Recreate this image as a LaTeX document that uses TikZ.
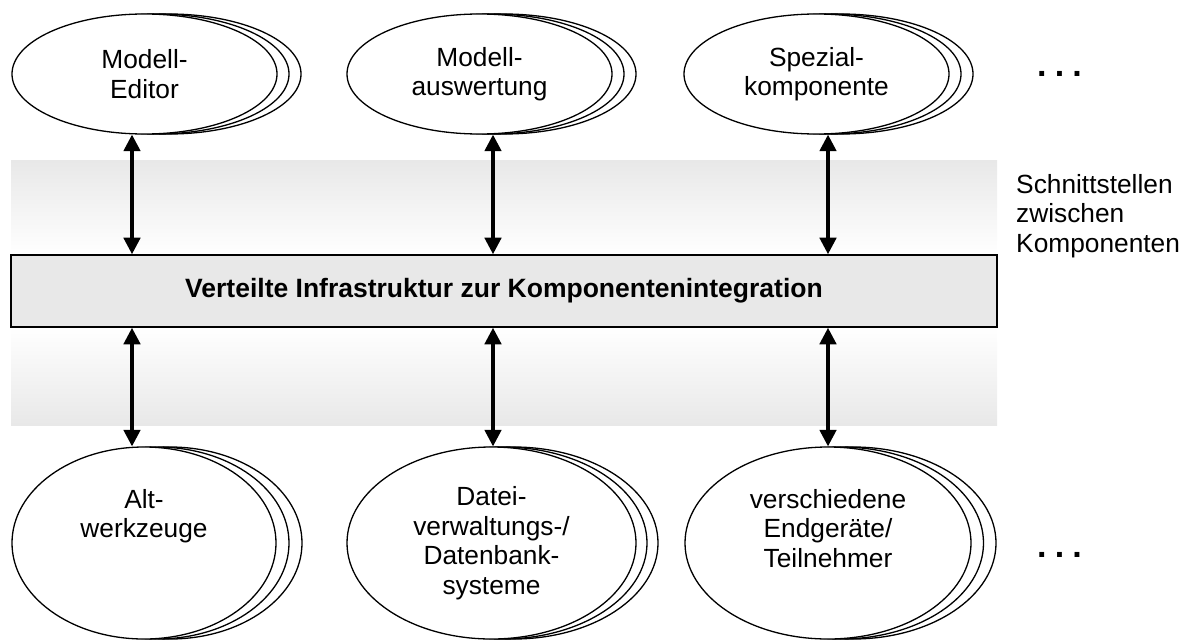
\documentclass[tikz,border=0pt]{standalone}
\usepackage{fontspec}
\setmainfont{Liberation Sans}
\usetikzlibrary{arrows.meta,shapes.geometric}

\tikzset{
  comp/.style={ellipse, draw=black, line width=1.3pt, fill=white, inner sep=0pt,
    align=center, font=\fontsize{26.3}{29.5}\selectfont},
  topcomp/.style={comp, minimum width=265pt, minimum height=120pt},
  botcomp/.style={comp, minimum width=#1, minimum height=192pt},
  infra/.style={rectangle, draw=black, line width=1.6pt, fill=barfill, inner sep=0pt,
    minimum width=986pt, minimum height=72pt,
    font=\bfseries\fontsize{26.5}{29.5}\selectfont},
  biarrow/.style={line width=3.2pt, {Triangle[length=16.5pt,width=16.5pt]}-{Triangle[length=16.5pt,width=16.5pt]}},
  plain/.style={inner sep=0pt, font=\fontsize{26.3}{29.5}\selectfont},
}
\definecolor{bandgray}{HTML}{E8E8E8}
\definecolor{barfill}{HTML}{E8E8E8}

\begin{document}
\begin{tikzpicture}[x=1pt, y=-1pt]
\useasboundingbox (0,0) rectangle (1182,640);

% shaded interface bands above and below the infrastructure bar
\fill[top color=bandgray, bottom color=white] (11,160) rectangle (997,255);
\fill[top color=white, bottom color=bandgray] (11,327) rectangle (997,425);

% infrastructure bar
\node[infra] (bar) at (504,291) {Verteilte Infrastruktur zur Komponentenintegration};

% upper components (stacked ellipses)
\foreach \name/\cx in {ed/144.5, aw/479.5, sp/816.5} {
  \node[topcomp] (\name c) at (\cx+24,74) {};
  \node[topcomp] (\name b) at (\cx+12,74) {};
}
\node[topcomp] (ed) at (144.5,74) {Modell-\\Editor};
\node[topcomp] (aw) at (479.5,74) {Modell-\\auswertung};
\node[topcomp] (sp) at (816.5,74) {Spezial-\\komponente};

% lower components (stacked ellipses)
\node[botcomp=264pt] (altc) at (144+26,543) {};
\node[botcomp=264pt] (altb) at (144+13,543) {};
\node[botcomp=264pt] (alt) at (144,543) {Alt-\\werkzeuge\\~\\~};
\node[botcomp=289pt] (dbc) at (491.5+22,543) {};
\node[botcomp=289pt] (dbb) at (491.5+11,543) {};
\node[botcomp=289pt] (db) at (491.5,543) {Datei-\\verwaltungs-/\\Datenbank-\\systeme};
\node[botcomp=286pt] (devc) at (828+25,543) {};
\node[botcomp=286pt] (devb) at (828+12.5,543) {};
\node[botcomp=286pt] (dev) at (828,543) {verschiedene\\Endgeräte/\\Teilnehmer\\~};

% connector columns
\coordinate (k1) at (132,0);
\coordinate (k2) at (493,0);
\coordinate (k3) at (828,0);

\draw[biarrow] (ed.south -| k1) -- (bar.north -| k1);
\draw[biarrow] (aw.south -| k2) -- (bar.north -| k2);
\draw[biarrow] (sp.south -| k3) -- (bar.north -| k3);
\draw[biarrow] (bar.south -| k1) -- (alt.north -| k1);
\draw[biarrow] (bar.south -| k2) -- (db.north -| k2);
\draw[biarrow] (bar.south -| k3) -- (dev.north -| k3);

% side label and continuation marks
\node[plain, anchor=north west, align=left] (lbl) at (1016,174)
  {Schnittstellen\\zwischen\\Komponenten};
\node[inner sep=0pt, anchor=base, font=\bfseries\fontsize{34}{34}\selectfont] (dtop) at (1059.5,76.5) {.\kern8.2pt.\kern8.2pt.};
\node[inner sep=0pt, anchor=base, font=\bfseries\fontsize{34}{34}\selectfont] (dbot) at (1059.5,557.5) {.\kern8.2pt.\kern8.2pt.};
\end{tikzpicture}
\end{document}
